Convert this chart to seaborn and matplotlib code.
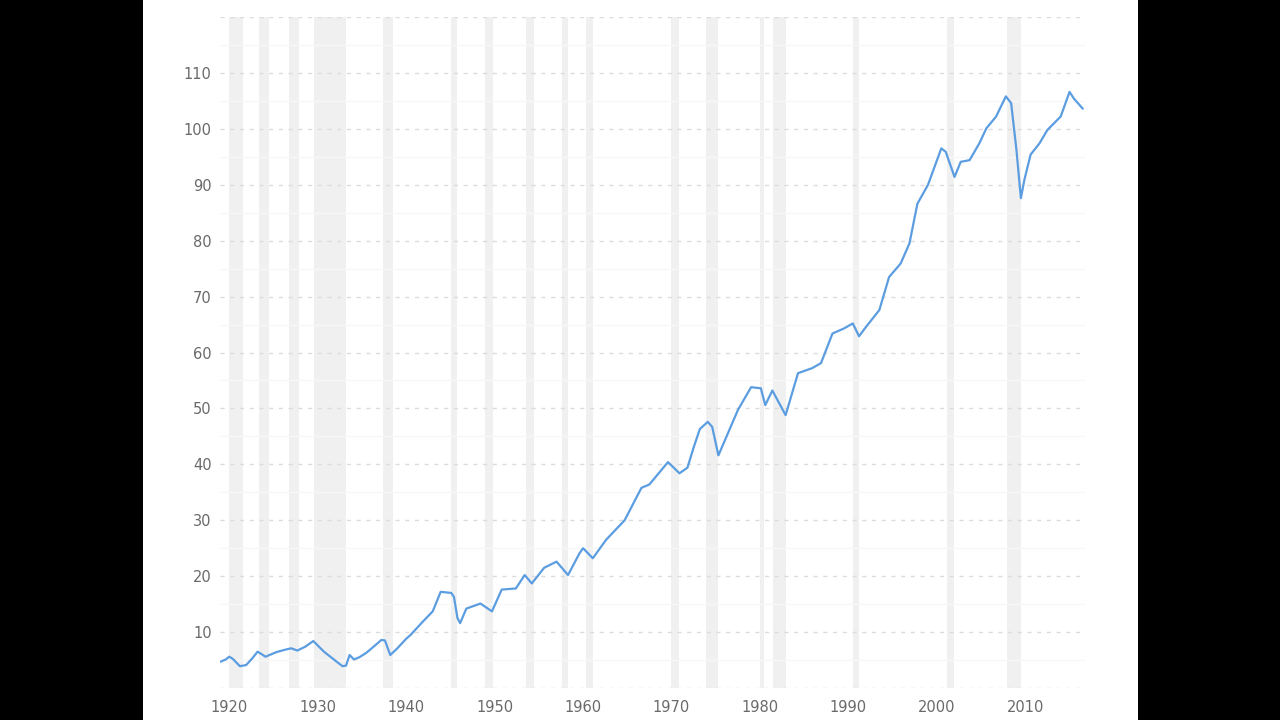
import matplotlib
matplotlib.use("Agg")
import matplotlib.pyplot as plt
import seaborn as sns
import pandas as pd
from matplotlib.patches import Rectangle

# ---- data ----
years = [1919.0, 1919.6, 1920.0, 1920.4, 1921.2, 1921.9, 1922.6, 1923.2, 1924.1, 1925.3,
         1926.2, 1927.0, 1927.7, 1928.6, 1929.5, 1930.7, 1931.9, 1932.8, 1933.2, 1933.6,
         1934.1, 1934.7, 1935.5, 1936.4, 1937.2, 1937.6, 1938.2, 1939.0, 1940.0, 1940.5,
         1941.9, 1943.0, 1943.9, 1945.1, 1945.4, 1945.8, 1946.1, 1946.8, 1948.4, 1949.7,
         1950.8, 1952.4, 1953.4, 1954.2, 1955.6, 1957.0, 1958.3, 1959.6, 1960.0, 1961.1,
         1962.6, 1964.7, 1966.6, 1967.5, 1969.6, 1970.9, 1971.8, 1972.5, 1973.2, 1974.1,
         1974.6, 1975.3, 1976.2, 1977.5, 1979.0, 1980.1, 1980.6, 1981.4, 1982.9, 1984.3,
         1985.9, 1986.9, 1988.2, 1989.5, 1990.5, 1991.2, 1992.0, 1993.5, 1994.6, 1995.9,
         1996.9, 1997.8, 1999.0, 2000.5, 2001.0, 2002.0, 2002.7, 2003.7, 2004.8, 2005.6,
         2006.7, 2007.8, 2008.4, 2009.0, 2009.5, 2009.9, 2010.6, 2011.6, 2012.5, 2014.0,
         2015.0, 2015.5, 2016.5]
values = [4.7, 5.1, 5.6, 5.2, 3.9, 4.1, 5.3, 6.5, 5.6, 6.4,
          6.8, 7.1, 6.7, 7.4, 8.4, 6.5, 5.0, 3.9, 4.0, 5.9,
          5.1, 5.5, 6.3, 7.5, 8.6, 8.5, 5.9, 7.1, 8.8, 9.5,
          11.9, 13.7, 17.2, 17.0, 16.3, 12.5, 11.6, 14.2, 15.1, 13.7,
          17.6, 17.8, 20.2, 18.7, 21.5, 22.6, 20.2, 24.1, 25.0, 23.2,
          26.5, 30.0, 35.8, 36.4, 40.4, 38.4, 39.4, 43.0, 46.3, 47.6,
          46.7, 41.6, 44.9, 49.7, 53.8, 53.6, 50.6, 53.2, 48.8, 56.3,
          57.2, 58.1, 63.4, 64.3, 65.2, 62.9, 64.6, 67.6, 73.5, 75.9,
          79.5, 86.6, 90.0, 96.5, 95.9, 91.4, 94.1, 94.4, 97.4, 100.1,
          102.2, 105.8, 104.6, 96.2, 87.6, 90.9, 95.4, 97.4, 99.8, 102.2,
          106.6, 105.4, 103.6]

recession_start = [1920.0, 1923.4, 1926.8, 1929.6, 1937.4, 1945.1, 1948.9, 1953.5, 1957.6,
                   1960.3, 1969.9, 1973.9, 1980.0, 1981.5, 1990.5, 2001.2, 2007.9]
recession_end = [1921.5, 1924.5, 1927.9, 1933.2, 1938.5, 1945.8, 1949.8, 1954.4, 1958.3,
                 1961.1, 1970.9, 1975.2, 1980.5, 1982.9, 1991.2, 2001.9, 2009.5]

x_ticks = [1920, 1930, 1940, 1950, 1960, 1970, 1980, 1990, 2000, 2010]
y_ticks = [0, 10, 20, 30, 40, 50, 60, 70, 80, 90, 100, 110, 120]
y_labels = ["", "10", "20", "30", "40", "50", "60", "70", "80", "90", "100", "110", ""]

df = pd.DataFrame({"year": years, "value": values})

sns.set_theme(style="white")
plt.rcParams["font.family"] = ["DejaVu Sans"]

fig = plt.figure(figsize=(12.8, 7.2), dpi=100, facecolor="black")
# white panel behind the chart
fig.patches.append(Rectangle((143 / 1280, 0), (1138 - 143) / 1280, 1,
                             transform=fig.transFigure, facecolor="white",
                             edgecolor="none", zorder=-10))

ax = fig.add_axes([220 / 1280, 1 - 688 / 720, (1085 - 220) / 1280, (688 - 17) / 720])
ax.set_facecolor("white")

for s, e in zip(recession_start, recession_end):
    ax.axvspan(s, e, color="#f0f0f0", lw=0, zorder=0)

# minor grid (faint solid)
for v in range(5, 120, 10):
    ax.axhline(v, color="#f7f7f7", lw=1, zorder=0.5)

sns.lineplot(data=df, x="year", y="value", ax=ax, color="#5b9de0", lw=1.6, zorder=3)

ax.set_xlim(1918.95, 2016.75)
ax.set_ylim(0, 120)
ax.set_xticks(x_ticks)
ax.set_xticklabels([str(t) for t in x_ticks])
ax.set_yticks(y_ticks)
ax.set_yticklabels(y_labels)
ax.set_xlabel("")
ax.set_ylabel("")
ax.grid(axis="y", color="#dcdcdc", lw=1, linestyle=(0, (3, 4)), zorder=1)
ax.grid(axis="x", visible=False)
for sp in ax.spines.values():
    sp.set_visible(False)
ax.tick_params(axis="both", length=0, labelsize=10.5, labelcolor="#6a6a6a")
ax.tick_params(axis="y", pad=6)
ax.tick_params(axis="x", pad=9)

fig.savefig("out.png", dpi=100, facecolor="black")
